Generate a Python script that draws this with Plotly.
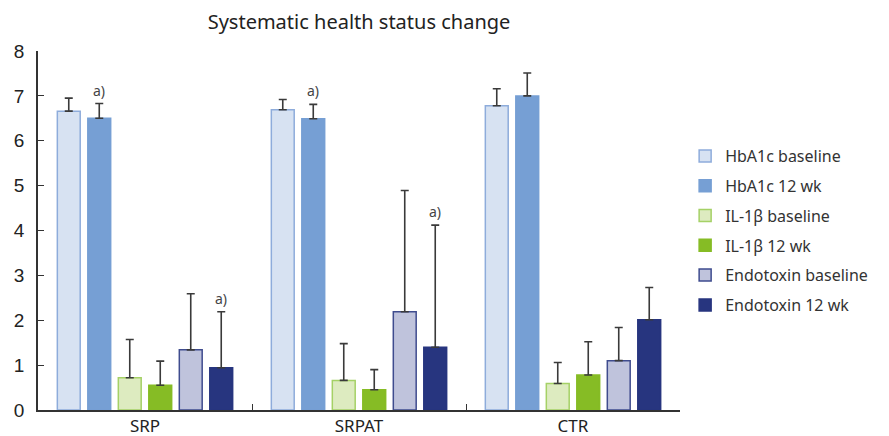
import plotly.graph_objects as go

categories = ["SRP", "SRPAT", "CTR"]
series_names = ["HbA1c baseline", "HbA1c 12 wk", "IL-1β baseline", "IL-1β 12 wk",
                "Endotoxin baseline", "Endotoxin 12 wk"]
hba1c_base = [6.66, 6.69, 6.78]
hba1c_12 = [6.50, 6.49, 7.00]
il_base = [0.72, 0.66, 0.59]
il_12 = [0.55, 0.45, 0.78]
endo_base = [1.34, 2.19, 1.10]
endo_12 = [0.94, 1.40, 2.01]
# upper end of the error bars
hba1c_base_err = [6.95, 6.92, 7.16]
hba1c_12_err = [6.83, 6.81, 7.51]
il_base_err = [1.57, 1.48, 1.06]
il_12_err = [1.09, 0.90, 1.52]
endo_base_err = [2.59, 4.89, 1.84]
endo_12_err = [2.19, 4.12, 2.73]
# significance marks: (category index, series index)
sig_marks = [(0, 1), (0, 5), (1, 1), (1, 5)]
yticks = [0, 1, 2, 3, 4, 5, 6, 7, 8]

values = [hba1c_base, hba1c_12, il_base, il_12, endo_base, endo_12]
tops = [hba1c_base_err, hba1c_12_err, il_base_err, il_12_err, endo_base_err, endo_12_err]
fills = ["#d7e2f2", "#769fd4", "#ddebc0", "#86bc25", "#bfc3dc", "#27357f"]
lines = ["#8eacdb", "#769fd4", "#a5d166", "#86bc25", "#3f4c8e", "#27357f"]

FONT = "Noto Sans"
# the page body has an 8px margin, so the figure is drawn 8px in from the top-left
W, H = 881, 428
fig = go.Figure()
for name, v, t, fc, lc in zip(series_names, values, tops, fills, lines):
    fig.add_trace(go.Bar(
        name=name, x=categories, y=v, legendgroup=name,
        marker=dict(color=fc, line=dict(color=lc, width=1.5)),
        error_y=dict(type="data", symmetric=False,
                     array=[b - a for a, b in zip(v, t)],
                     arrayminus=[0] * len(v),
                     color="#3a3a3a", thickness=1.6, width=4),
    ))

bargap = 0.145
slot = (1 - bargap) / len(series_names)
for ci, si in sig_marks:
    fig.add_annotation(
        x=ci + (si - (len(series_names) - 1) / 2) * slot, y=tops[si][ci],
        text="a)", showarrow=False, yanchor="bottom", yshift=2,
        font=dict(family=FONT, size=14, color="#444"))

fig.update_layout(
    width=W, height=H,
    margin=dict(l=30, r=209, t=43, b=26),
    paper_bgcolor="white", plot_bgcolor="white",
    barmode="group", bargap=bargap, bargroupgap=0.25,
    title=dict(text="Systematic health status change", x=351 / W,
               xanchor="center", y=1 - 14 / H, yanchor="middle",
               font=dict(family=FONT, size=20, color="#222")),
    legend=dict(x=1.008, xref="paper", y=0.5, yanchor="middle",
                font=dict(family=FONT, size=16, color="#333"),
                itemwidth=30, tracegroupgap=6),
    font=dict(family=FONT, color="#222"),
)
fig.update_yaxes(range=[0, 8], tickvals=yticks, showline=True, linecolor="#333",
                 linewidth=1.5, ticks="inside", ticklen=6, tickcolor="#333",
                 showgrid=False, zeroline=False, automargin=False,
                 ticklabelstandoff=8,
                 tickfont=dict(family="Liberation Sans", size=19, color="#222"))
fig.update_xaxes(showline=True, linecolor="#333", linewidth=1.5, ticks="inside",
                 tickson="boundaries", ticklen=6, tickcolor="#333", automargin=False,
                 tickfont=dict(family=FONT, size=17, color="#222"))

fig.write_html("out.html")
